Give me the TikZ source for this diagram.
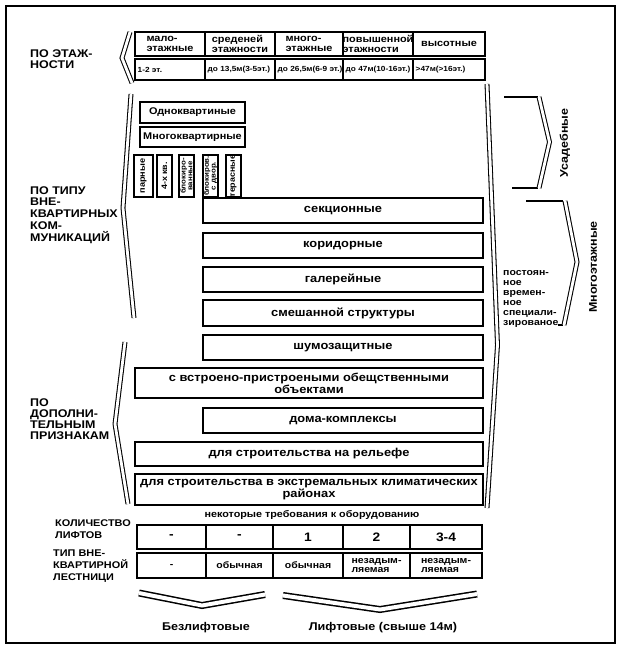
\documentclass[tikz,border=0pt]{standalone}
\usepackage{fontspec}
\setmainfont{Liberation Sans}[FakeStretch=1.12]
\usetikzlibrary{positioning}

\begin{document}
\begin{tikzpicture}[x=0.03cm,y=-0.03cm,
  box/.style={draw,line width=1.05pt},
  dbl/.style={double,line width=.9pt,double distance=2.4pt},
  dblwide/.style={double,line width=1.3pt,double distance=3.4pt},
  grouplbl/.style={font=\bfseries\fontsize{9.5}{9.5}\selectfont,align=left,
    anchor=north west,inner sep=0pt},
  boxtxt/.style={font=\bfseries\fontsize{9.8}{10}\selectfont,align=center,inner sep=0pt},
  celltxt/.style={font=\bfseries\fontsize{8.3}{8.3}\selectfont,align=left,inner sep=0pt},
  smalltxt/.style={font=\bfseries\fontsize{6.3}{7}\selectfont,inner sep=0pt},
  verttxt/.style={font=\bfseries\fontsize{6}{5.8}\selectfont,align=center,
    rotate=90,inner sep=0pt},
  sidetxt/.style={font=\bfseries\fontsize{9.5}{9.5}\selectfont,rotate=90,inner sep=0pt}]
\useasboundingbox (0,0) rectangle (627,672);
\draw[line width=1.2pt] (6,6) rectangle (615,643);

% по этажности
\node[grouplbl] (etazh) at (30,49) {ПО ЭТАЖ-\\НОСТИ};
\draw[dbl] (130,32) -- (122,58) -- (132,83);
\foreach \xa/\xb/\txt [count=\i] in {135/205/{мало-\\этажные},
    205/275/{среденей\\этажности}, 275/343/{много-\\этажные},
    343/413/{повышенной\\этажности}, 413/485/{высотные}}{
  \draw[box] (\xa,32) rectangle (\xb,56);
  \node[celltxt] (h\i) at ({(\xa+\xb)/2},44) {\txt};
}
\foreach \xa/\xb/\txt [count=\i] in {135/205/{1-2 эт.},
    205/275/{до 13,5м(3-5эт.)}, 275/343/{до 26,5м(6-9 эт.)},
    343/413/{до 47м(10-16эт.)}, 413/485/{>47м(>16эт.)}}{
  \draw[box] (\xa,59) rectangle (\xb,80);
  \node[smalltxt,anchor=west] (r\i) at (\xa+2.5,70) {\txt};
}

% по типу внеквартирных коммуникаций
\node[grouplbl,font=\bfseries\fontsize{9.5}{10.2}\selectfont] (tip) at (30,186)
  {ПО ТИПУ\\ВНЕ-\\КВАРТИРНЫХ\\КОМ-\\МУНИКАЦИЙ};
\draw[dbl] (131,94) -- (123,208) -- (134,318);
\draw[box] (140,102) rectangle (245,123);
\node[celltxt] (odno) at (192.5,112.5) {Одноквартиные};
\draw[box] (140,127) rectangle (245,147);
\node[celltxt] (mnogo) at (192.5,137) {Многоквартирные};
\foreach \xa/\xb/\txt/\fs [count=\i] in {134/153/{парные}/7, 157/172/{4-х кв.}/6.8,
    179/194/{блокиро-\\ванные}/6, 203/218/{блокиров.\\с двор.}/6, 226/241/{терасные}/6.8}{
  \draw[box] (\xa,155) rectangle (\xb,197);
  \node[verttxt,font=\bfseries\fontsize{\fs}{5.8}\selectfont] (v\i)
    at ({(\xa+\xb)/2},176) {\txt};
}

% по дополнительным признакам
\node[grouplbl,font=\bfseries\fontsize{9.5}{9.6}\selectfont] (dop) at (30,398)
  {ПО\\ДОПОЛНИ-\\ТЕЛЬНЫМ\\ПРИЗНАКАМ};
\draw[dbl] (125,342) -- (115,424) -- (128,504);

\foreach \nm/\xa/\ya/\yb/\txt in {sek/203/198/223/{секционные},
    kor/203/233/258/{коридорные}, gal/203/267/292/{галерейные},
    sme/203/300/326/{смешанной структуры}, shu/203/335/360/{шумозащитные},
    vst/135/368/398/{с встроено-пристроеными обещственными\\объектами},
    dom/203/408/433/{дома-комплексы},
    rel/135/442/466/{для строительства на рельефе},
    ext/135/474/505/{для строительства в экстремальных климатических\\районах}}{
  \draw[box] (\xa,\ya) rectangle (483,\yb);
  \node[boxtxt] (\nm) at ({(\xa+483)/2},{(\ya+\yb)/2}) {\txt};
}

% правая часть
\draw[dbl] (487,84) -- (497.5,345) -- (487,508);
\node[celltxt,font=\bfseries\fontsize{8}{8.6}\selectfont,anchor=north west] (nazn)
  at (503,270) {постоян-\\ное\\времен-\\ное\\специали-\\зированое};
\draw[line width=.9pt] (504,97) -- (538,97) (512,188) -- (538,188);
\draw[dbl] (539,97) -- (549.5,142) -- (539,188);
\node[sidetxt] (usad) at (565,143) {Усадебные};
\draw[line width=.9pt] (526,201) -- (563,201) (558,325) -- (563,325);
\draw[dbl] (565,201) -- (577,262) -- (564,325);
\node[sidetxt] (mnet) at (593,267) {Многоэтажные};

% требования к оборудованию
\node[celltxt,font=\bfseries\fontsize{8.2}{8.2}\selectfont] (treb) at (312,515)
  {некоторые требования к оборудованию};
\node[grouplbl,font=\bfseries\fontsize{8.3}{11}\selectfont] (kol) at (55,519)
  {КОЛИЧЕСТВО\\ЛИФТОВ};
\node[grouplbl,font=\bfseries\fontsize{8.3}{10}\selectfont] (lest) at (53,550)
  {ТИП ВНЕ-\\КВАРТИРНОЙ\\ЛЕСТНИЦИ};
\foreach \xa/\xb/\txt [count=\i] in {137/206/{-}, 206/273/{-}, 273/343/{1},
    343/410/{2}, 410/482/{3-4}}{
  \draw[box] (\xa,525) rectangle (\xb,549);
  \node[boxtxt,font=\bfseries\fontsize{10.5}{10.5}\selectfont] (l\i)
    at ({(\xa+\xb)/2},537) {\txt};
}
\foreach \xa/\xb/\txt [count=\i] in {137/206/{-}, 206/273/{обычная},
    273/343/{обычная}, 343/410/{незадым-\\ляемая}, 410/482/{незадым-\\ляемая}}{
  \draw[box] (\xa,553) rectangle (\xb,578);
  \node[celltxt,font=\bfseries\fontsize{8}{7.6}\selectfont] (s\i)
    at ({(\xa+\xb)/2},565.5) {\txt};
}
\draw[dblwide] (139,593) -- (202,605.5) -- (265,594.5);
\draw[dblwide] (283,595.5) -- (380,609.5) -- (477,594);
\node[boxtxt,font=\bfseries\fontsize{9.6}{9.6}\selectfont] (bez) at (206,628)
  {Безлифтовые};
\node[boxtxt,font=\bfseries\fontsize{9.6}{9.6}\selectfont] (lift) at (383,628)
  {Лифтовые (свыше 14м)};
\end{tikzpicture}
\end{document}
